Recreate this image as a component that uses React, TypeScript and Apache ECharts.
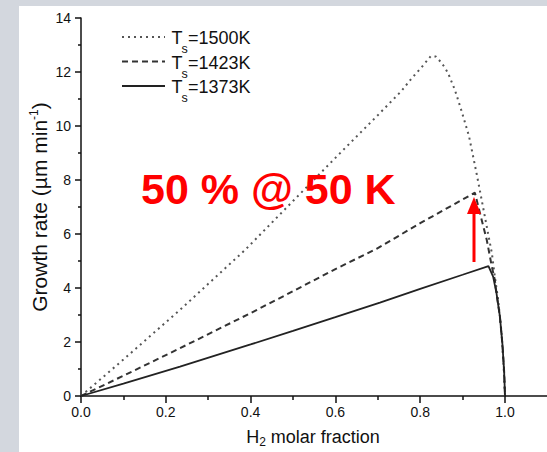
import React, { useEffect, useRef } from "react";
import * as echarts from "echarts";

// ---- data ----
const seriesNames = ["1500K", "1423K", "1373K"];

const x1500 = [0, 0.1, 0.2335, 0.387, 0.5, 0.6, 0.7, 0.756, 0.78, 0.803, 0.825, 0.837, 0.848, 0.858, 0.866, 0.882, 0.898, 0.915, 0.933, 0.945, 0.957, 0.969, 0.976, 0.984, 0.992, 0.997, 1.0];
const y1500 = [0, 1.35, 3.19, 5.41, 7.22, 8.82, 10.4, 11.3, 11.77, 12.17, 12.59, 12.57, 12.38, 12.17, 11.95, 11.33, 10.53, 9.63, 8.24, 7.26, 6.27, 5.29, 4.42, 3.55, 2.32, 1.0, 0];

const x1423 = [0, 0.1, 0.2335, 0.4, 0.5, 0.6, 0.697, 0.8, 0.88, 0.929, 0.941, 0.957, 0.969, 0.976, 0.98, 0.988, 0.994, 0.998, 1.0];
const y1423 = [0, 0.75, 1.77, 3.07, 3.88, 4.7, 5.45, 6.4, 7.1, 7.53, 6.77, 5.78, 4.79, 4.3, 3.8, 2.94, 1.9, 0.9, 0];

const x1373 = [0, 0.1, 0.2335, 0.4, 0.5, 0.6, 0.705, 0.8, 0.9, 0.961, 0.972, 0.98, 0.988, 0.994, 0.998, 1.0];
const y1373 = [0, 0.46, 1.085, 1.91, 2.41, 2.92, 3.46, 3.97, 4.49, 4.81, 4.42, 3.8, 2.94, 1.9, 0.9, 0];

const xMin = 0;
const xMax = 1.0;
const xInterval = 0.2;
const yMin = 0;
const yMax = 14;
const yInterval = 2;

const annotationText = "50 % @ 50 K";

const FONT = "'Liberation Sans', Arial, Helvetica, sans-serif";

const lineStyles = [
  { color: "#555", width: 2, type: [2, 4] as number[] | string, dash: [2, 4] },
  { color: "#333", width: 2, type: [6, 4] as number[] | string, dash: [6, 4] },
  { color: "#222", width: 1.8, type: "solid" as number[] | string, dash: null as number[] | null },
];

function pairs(xs: number[], ys: number[]) {
  return xs.map((x, i) => [x, ys[i]]);
}

function legendGraphics() {
  const items: any[] = [];
  seriesNames.forEach((name, i) => {
    const cy = 31 + i * 24.5;
    const ls = lineStyles[i];
    items.push({
      type: "line",
      shape: { x1: 103, y1: cy, x2: 146, y2: cy },
      style: { stroke: ls.color, lineWidth: ls.width, lineDash: ls.dash || undefined },
      z: 20,
    });
    items.push({
      type: "text",
      x: 152.5,
      y: cy + 1,
      style: { text: "T", fill: "#111", font: `18px ${FONT}`, verticalAlign: "middle", align: "left" },
      z: 20,
    });
    items.push({
      type: "text",
      x: 162.5,
      y: cy + 12,
      style: { text: "s", fill: "#111", font: `12.5px ${FONT}`, verticalAlign: "middle", align: "left" },
      z: 20,
    });
    items.push({
      type: "text",
      x: 169,
      y: cy + 1,
      style: { text: "=" + name, fill: "#111", font: `18px ${FONT}`, verticalAlign: "middle", align: "left" },
      z: 20,
    });
  });
  return items;
}

export default function App() {
  const ref = useRef<HTMLDivElement>(null);

  useEffect(() => {
    if (!ref.current) return;
    const chart = echarts.init(ref.current, undefined, { renderer: "svg" });

    const option: any = {
      animation: false,
      backgroundColor: "#ffffff",
      grid: { left: 62, top: 12, right: 42, bottom: 56, containLabel: false, outerBoundsMode: "none" },
      xAxis: {
        type: "value",
        min: xMin,
        max: xMax,
        interval: xInterval,
        name: "H{sub|2} molar fraction",
        nameLocation: "middle",
        nameGap: 30,
        nameMoveOverlap: false,
        nameTextStyle: {
          fontSize: 18,
          lineHeight: 22,
          color: "#111",
          fontFamily: FONT,
          padding: [0, 0, 0, 40],
          rich: {
            sub: { fontSize: 12, lineHeight: 12, verticalAlign: "bottom", color: "#111", fontFamily: FONT },
          },
        },
        axisLine: { show: true, lineStyle: { color: "#111", width: 1.5 } },
        axisTick: { show: true, inside: false, length: 7, lineStyle: { color: "#111", width: 1.5 } },
        minorTick: { show: true, splitNumber: 2, length: 4, lineStyle: { color: "#111", width: 1.5 } },
        axisLabel: {
          margin: 9,
          fontSize: 14,
          color: "#111",
          fontFamily: FONT,
          formatter: (v: number) => v.toFixed(1),
        },
        splitLine: { show: false },
      },
      yAxis: {
        type: "value",
        min: yMin,
        max: yMax,
        interval: yInterval,
        name: "Growth rate (µm min{sup|-1})",
        nameLocation: "middle",
        nameGap: 31,
        nameMoveOverlap: false,
        nameTextStyle: {
          fontSize: 21,
          lineHeight: 22,
          color: "#111",
          fontFamily: FONT,
          rich: {
            sup: { fontSize: 12, lineHeight: 12, verticalAlign: "top", color: "#111", fontFamily: FONT },
          },
        },
        axisLine: { show: true, lineStyle: { color: "#111", width: 1.5 } },
        axisTick: { show: true, inside: false, length: 6, lineStyle: { color: "#111", width: 1.5 } },
        minorTick: { show: true, splitNumber: 2, length: 3, lineStyle: { color: "#111", width: 1.5 } },
        axisLabel: { margin: 10, fontSize: 14, color: "#111", fontFamily: FONT },
        splitLine: { show: false },
      },
      series: seriesNames.map((name, i) => ({
        name,
        type: "line",
        symbol: "none",
        smooth: false,
        data: [pairs(x1500, y1500), pairs(x1423, y1423), pairs(x1373, y1373)][i],
        lineStyle: { color: lineStyles[i].color, width: lineStyles[i].width, type: lineStyles[i].type },
        itemStyle: { color: lineStyles[i].color },
        z: 3 + i,
      })),
      graphic: [
        {
          type: "line",
          shape: { x1: 486, y1: 390, x2: 528, y2: 390 },
          style: { stroke: "#111", lineWidth: 1.5 },
          z: 10,
        },
        ...legendGraphics(),
        {
          type: "text",
          x: 122,
          y: 183,
          style: {
            text: annotationText,
            fill: "#ff0000",
            font: `bold 43px ${FONT}`,
            verticalAlign: "middle",
            align: "left",
          },
          z: 20,
        },
        {
          type: "line",
          shape: { x1: 455, y1: 256, x2: 455, y2: 205 },
          style: { stroke: "#ff0000", lineWidth: 3 },
          z: 20,
        },
        {
          type: "polygon",
          shape: { points: [[448, 208], [462, 208], [455, 191]] },
          style: { fill: "#ff0000" },
          z: 20,
        },
      ],
    };

    chart.setOption(option);
    return () => chart.dispose();
  }, []);

  return (
    <div
      style={{
        position: "fixed",
        left: 0,
        top: 0,
        width: 547,
        height: 452,
        background: "#d3d7de",
        overflow: "hidden",
      }}
    >
      <div
        ref={ref}
        style={{ position: "absolute", left: 19, top: 6, width: 528, height: 446, background: "#fff" }}
      />
    </div>
  );
}
